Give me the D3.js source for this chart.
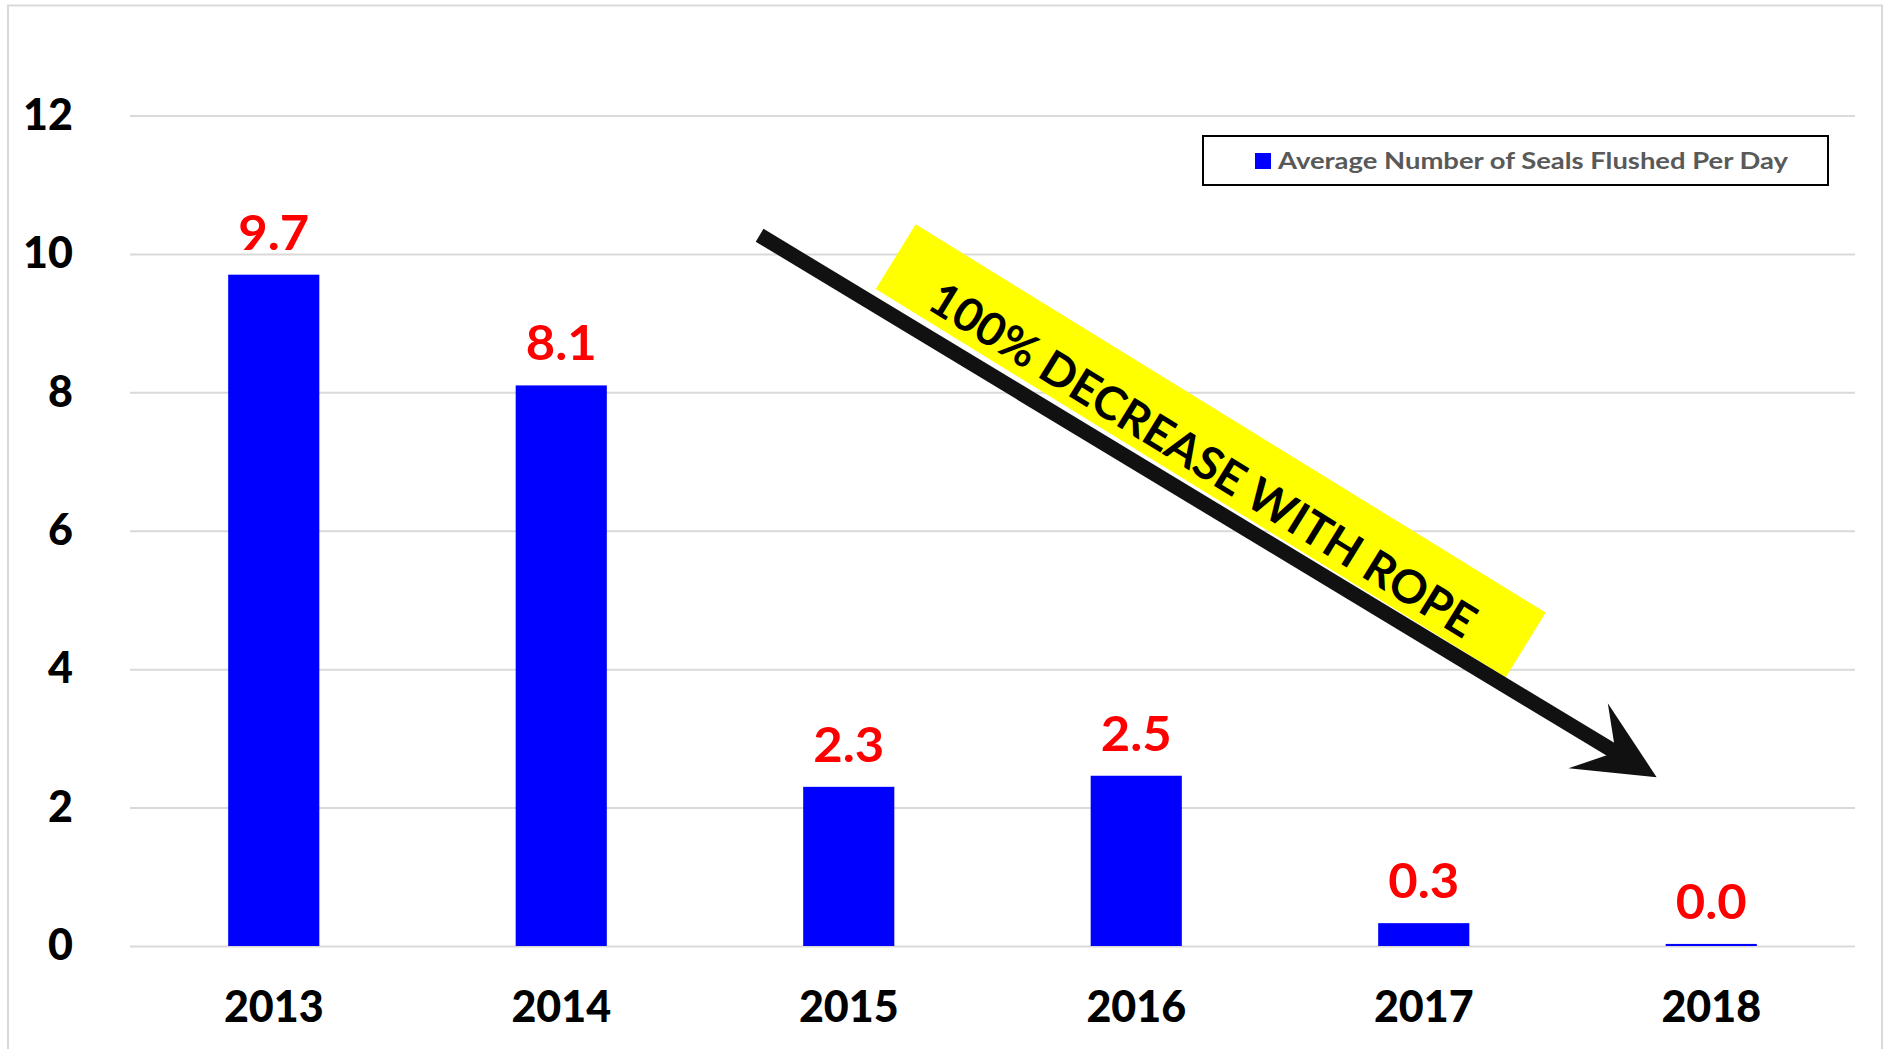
<!DOCTYPE html>
<html lang="en">
<head>
  <meta charset="UTF-8">
  <title>Average Number of Seals Flushed Per Day</title>
  <script src="https://d3js.org/d3.v7.min.js"></script>
  <style>
    body {
      margin: 0;
      background: #fff;
      font-family: Lato, "Open Sans", sans-serif;
    }
    svg { display: block; }
    .grid line { stroke: #d9d9d9; stroke-width: 2px; }
    .grid .domain { display: none; }
    .tick-label { font-weight: 900; fill: #000; }
  </style>
</head>
<body>
  <svg id="chart" width="1885" height="1049"></svg>
  <script>
    // Chart data
    const years = ["2013", "2014", "2015", "2016", "2017", "2018"];
    const sealsPerDay = [9.7, 8.1, 2.3, 2.46, 0.33, 0.03];
    const yTicks = [0, 2, 4, 6, 8, 10, 12];
    const seriesName = "Average Number of Seals Flushed Per Day";
    const bannerText = "100% DECREASE WITH ROPE";

    // Annotation anchors, in (category index, value) units
    const arrowFrom = [2.19, 10.27];
    const arrowTo = [5.31, 2.44];
    const bannerCenter = [3.759, 7.155];

    const plot = { left: 130, right: 1855, top: 115.5, bottom: 946 };

    const svg = d3.select("#chart");

    // Light frame round the chart area (runs off the bottom, as in the source)
    svg.append("rect")
      .attr("x", 8).attr("y", 5.5)
      .attr("width", 1874).attr("height", 1100)
      .attr("fill", "#fff")
      .attr("stroke", "#d9d9d9")
      .attr("stroke-width", 2);

    const x = d3.scaleBand()
      .domain(years)
      .range([plot.left, plot.right])
      .paddingInner(0.683)
      .paddingOuter(0.3415);

    const xIdx = d3.scaleLinear().domain([0, years.length]).range([plot.left, plot.right]);

    const y = d3.scaleLinear()
      .domain([0, 12])
      .range([plot.bottom, plot.top]);

    // Gridlines + y labels
    const yAxis = svg.append("g")
      .attr("class", "grid")
      .attr("transform", `translate(${plot.left},0)`)
      .call(d3.axisLeft(y)
        .tickValues(yTicks)
        .tickSize(-(plot.right - plot.left))
        .tickPadding(57)
        .tickFormat(d3.format("d")));
    yAxis.selectAll("text")
      .attr("class", "tick-label")
      .style("font-family", "Lato, sans-serif")
      .style("font-size", "43px");

    // x labels
    const xAxis = svg.append("g")
      .attr("transform", `translate(0,${plot.bottom})`)
      .call(d3.axisBottom(x).tickSize(0).tickPadding(45));
    xAxis.select(".domain").remove();
    xAxis.selectAll("text")
      .attr("class", "tick-label")
      .style("font-family", "Lato, sans-serif")
      .style("font-size", "43px");

    const data = years.map((yr, i) => ({ year: yr, value: sealsPerDay[i] }));

    // Bars
    svg.append("g")
      .selectAll("rect")
      .data(data)
      .join("rect")
        .attr("x", d => x(d.year))
        .attr("y", d => y(d.value))
        .attr("width", x.bandwidth())
        .attr("height", d => y(0) - y(d.value))
        .attr("fill", "#0000ff");

    // Value labels
    svg.append("g")
      .selectAll("text")
      .data(data)
      .join("text")
        .attr("transform", d => `translate(${x(d.year) + x.bandwidth() / 2},${y(d.value) - 25}) scale(1.08,1)`)
        .attr("text-anchor", "middle")
        .style("font-family", "Lato, sans-serif")
        .style("font-size", "47px")
        .style("font-weight", "bold")
        .attr("fill", "#ff0000")
        .text(d => d.value.toFixed(1));

    // Legend
    const legend = svg.append("g");
    legend.append("rect")
      .attr("x", 1203).attr("y", 136)
      .attr("width", 625).attr("height", 49)
      .attr("fill", "#fff")
      .attr("stroke", "#000")
      .attr("stroke-width", 2);
    legend.append("rect")
      .attr("x", 1255).attr("y", 153)
      .attr("width", 16).attr("height", 16)
      .attr("fill", "#0000ff");
    legend.append("text")
      .attr("x", 1278).attr("y", 169)
      .attr("textLength", 510)
      .attr("lengthAdjust", "spacingAndGlyphs")
      .style("font-family", "Lato, sans-serif")
      .style("font-size", "23px")
      .style("font-weight", "bold")
      .attr("fill", "#595959")
      .text(seriesName);

    // Yellow banner with rotated text
    const bx = xIdx(bannerCenter[0]);
    const by = y(bannerCenter[1]);
    const banner = svg.append("g")
      .attr("transform", `translate(${bx},${by}) rotate(31.65)`);
    banner.append("rect")
      .attr("x", -370).attr("y", -38)
      .attr("width", 740).attr("height", 76)
      .attr("fill", "#ffff00");

    // Trend arrow (shaft + swept-back head)
    const ax0 = xIdx(arrowFrom[0]), ay0 = y(arrowFrom[1]);
    const ax1 = xIdx(arrowTo[0]), ay1 = y(arrowTo[1]);
    const ang = Math.atan2(ay1 - ay0, ax1 - ax0);
    const len = Math.hypot(ax1 - ax0, ay1 - ay0);
    const arrow = svg.append("g")
      .attr("transform", `translate(${ax0},${ay0}) rotate(${ang * 180 / Math.PI})`);
    arrow.append("line")
      .attr("x1", 0).attr("y1", 0)
      .attr("x2", len - 40).attr("y2", 0)
      .attr("stroke", "#111")
      .attr("stroke-width", 15);
    arrow.append("path")
      .attr("d", d3.line()([
        [len, 0], [len - 80, -38], [len - 48, 0], [len - 80, 38]
      ]) + "Z")
      .attr("fill", "#111");

    banner.append("text")
      .attr("x", -2).attr("y", 28)
      .attr("text-anchor", "middle")
      .attr("textLength", 632)
      .attr("lengthAdjust", "spacingAndGlyphs")
      .style("font-family", "Lato, sans-serif")
      .style("font-size", "46px")
      .style("font-weight", "bold")
      .attr("fill", "#000")
      .text(bannerText);
  </script>
</body>
</html>
